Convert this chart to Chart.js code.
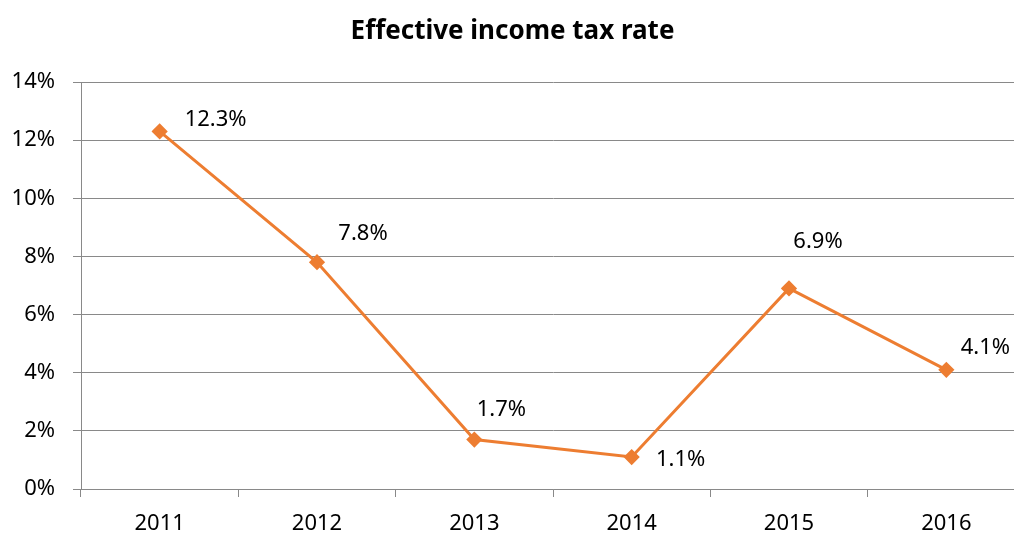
<!DOCTYPE html>
<html>
<head>
<meta charset="utf-8">
<script src="https://cdn.jsdelivr.net/npm/chart.js@4.4.0/dist/chart.umd.min.js"></script>
<style>
  html, body { margin: 0; padding: 0; background: #fff; overflow: hidden; }
  #wrap { width: 1046px; height: 534px; }
</style>
</head>
<body>
<div id="wrap"><canvas id="c" width="1046" height="534"></canvas></div>
<script>
const categories = ['2011', '2012', '2013', '2014', '2015', '2016'];
const taxRate = [12.3, 7.8, 1.7, 1.1, 6.9, 4.1];
const valueLabels = ['12.3%', '7.8%', '1.7%', '1.1%', '6.9%', '4.1%'];
const labelOffsets = [[56, -12], [46, -29], [27, -30], [49, 3], [29, -47], [39, -22]];

const FONT = '"Noto Sans", "Open Sans", sans-serif';
const GRID = '#898989';
const ORANGE = '#ED7D31';

const labelPlugin = {
  id: 'pointLabels',
  afterDatasetsDraw(chart) {
    const ctx = chart.ctx;
    const meta = chart.getDatasetMeta(0);
    ctx.save();
    ctx.font = '22px ' + FONT;
    ctx.fillStyle = '#000';
    ctx.textAlign = 'center';
    ctx.textBaseline = 'middle';
    meta.data.forEach((pt, i) => {
      const o = labelOffsets[i];
      ctx.fillText(valueLabels[i], pt.x + o[0], pt.y + o[1]);
    });
    ctx.restore();
  }
};

new Chart(document.getElementById('c'), {
  type: 'line',
  data: {
    labels: categories,
    datasets: [{
      data: taxRate,
      borderColor: ORANGE,
      backgroundColor: ORANGE,
      borderWidth: 3,
      pointStyle: 'rectRot',
      pointRadius: 6,
      pointHoverRadius: 6,
      tension: 0
    }]
  },
  options: {
    responsive: false,
    animation: false,
    devicePixelRatio: 1,
    layout: { padding: { left: 0, right: 21, top: 0, bottom: 0 } },
    plugins: {
      legend: { display: false },
      tooltip: { enabled: false },
      title: {
        display: true,
        text: 'Effective income tax rate',
        color: '#000',
        font: { family: FONT, size: 26, weight: 'bold', lineHeight: 1.2 },
        padding: { top: 16.4, bottom: 34.4 }
      }
    },
    scales: {
      x: {
        offset: true,
        grid: {
          offset: true,
          drawOnChartArea: false,
          drawTicks: true,
          tickLength: 8,
          color: GRID,
          lineWidth: 1
        },
        border: { display: true, color: GRID, width: 1 },
        ticks: { color: '#000', font: { family: FONT, size: 22 }, padding: 14, maxRotation: 0 },
        afterFit(scale) { scale.height = 45; }
      },
      y: {
        min: 0,
        max: 14,
        ticks: {
          stepSize: 2,
          color: '#000',
          font: { family: FONT, size: 22 },
          padding: 18,
          callback: v => v + '%'
        },
        grid: { color: GRID, lineWidth: 1, tickLength: 8, drawTicks: true },
        border: { display: true, color: GRID, width: 1 },
        afterFit(scale) { scale.width = 81; }
      }
    }
  },
  plugins: [labelPlugin]
});
</script>
</body>
</html>
